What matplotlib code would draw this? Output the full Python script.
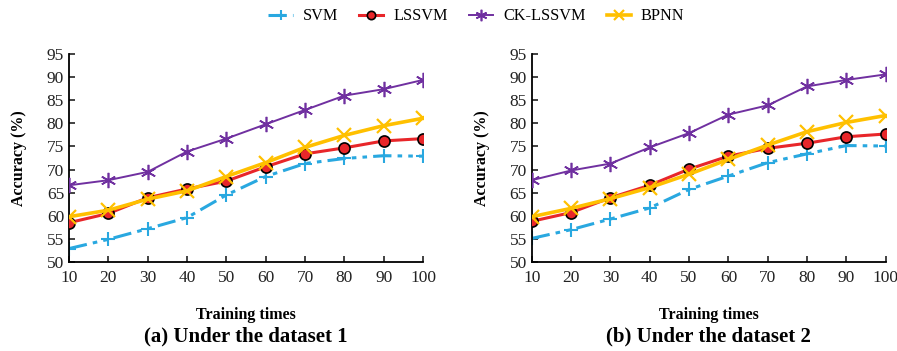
import matplotlib
matplotlib.use("Agg")
import matplotlib.pyplot as plt

plt.rcParams['font.family'] = ['Liberation Serif', 'DejaVu Serif']

training_times = [10, 20, 30, 40, 50, 60, 70, 80, 90, 100]
yticks = [50, 55, 60, 65, 70, 75, 80, 85, 90, 95]

# dataset 1
svm_1 = [52.9, 54.9, 57.2, 59.6, 64.5, 68.5, 71.3, 72.4, 73.0, 72.9]
lssvm_1 = [58.5, 60.5, 63.9, 65.8, 67.5, 70.6, 73.4, 74.7, 76.2, 76.7]
ck_lssvm_1 = [66.6, 67.7, 69.5, 73.9, 76.7, 79.8, 82.9, 86.0, 87.4, 89.4]
bpnn_1 = [59.8, 61.2, 63.6, 65.4, 68.5, 71.5, 74.8, 77.4, 79.5, 81.1]

# dataset 2
svm_2 = [55.1, 57.0, 59.3, 61.7, 65.7, 68.6, 71.5, 73.4, 75.2, 75.1]
lssvm_2 = [58.8, 60.7, 63.9, 66.6, 70.1, 72.9, 74.6, 75.7, 77.1, 77.7]
ck_lssvm_2 = [67.7, 69.8, 71.3, 74.8, 77.9, 81.9, 83.9, 88.0, 89.4, 90.6]
bpnn_2 = [59.8, 61.6, 63.7, 66.1, 69.0, 72.2, 75.3, 78.2, 80.2, 81.7]

titles = ["(a) Under the dataset 1", "(b) Under the dataset 2"]

BLUE = "#29a8e0"
RED = "#e8262a"
PURPLE = "#7030a0"
GOLD = "#ffc000"

fig = plt.figure(figsize=(8.97, 3.51), dpi=100)
ax1 = fig.add_axes([0.0769, 0.2536, 0.3947, 0.5924])
ax2 = fig.add_axes([0.5928, 0.2536, 0.3946, 0.5924])


def draw_panel(ax, svm, lssvm, ck, bpnn, title):
    ax.plot(training_times, svm, color=BLUE, linestyle=(0, (6, 2, 1.5, 2, 1.5, 2)),
            linewidth=2.2, marker="+", markersize=10, markeredgewidth=1.5,
            label="SVM", zorder=2)
    ax.plot(training_times, lssvm, color=RED, linewidth=2.2, marker="o",
            markersize=8, markerfacecolor=RED, markeredgecolor="black",
            markeredgewidth=1.2, label="LSSVM", zorder=3)
    ax.plot(training_times, ck, color=PURPLE, linewidth=1.4, marker=(6, 2, 0),
            markersize=11, markeredgewidth=1.2, label="CK-LSSVM", zorder=4)
    ax.plot(training_times, bpnn, color=GOLD, linewidth=2.6, marker="x",
            markersize=10, markeredgewidth=1.6, label="BPNN", zorder=4)

    ax.set_xlim(10, 100)
    ax.set_ylim(50, 95)
    ax.set_xticks(training_times)
    ax.set_yticks(yticks)
    ax.spines['top'].set_visible(False)
    ax.spines['right'].set_visible(False)
    ax.spines['left'].set_linewidth(1.3)
    ax.spines['bottom'].set_linewidth(1.3)
    ax.tick_params(direction='in', length=4, width=1.2, labelsize=12.5,
                   colors='#222222')
    ax.tick_params(axis='x', pad=6)
    ax.set_ylabel("Accuracy (%)", fontsize=11.5, fontweight='bold', labelpad=14)
    ax.set_xlabel("Training times", fontsize=11.5, fontweight='bold', labelpad=15)
    ax.set_title(title, fontsize=15, fontweight='bold', y=-0.42)


draw_panel(ax1, svm_1, lssvm_1, ck_lssvm_1, bpnn_1, titles[0])
draw_panel(ax2, svm_2, lssvm_2, ck_lssvm_2, bpnn_2, titles[1])

handles, labels = ax1.get_legend_handles_labels()
fig.legend(handles, labels, loc='center', bbox_to_anchor=(0.531, 0.953),
           ncol=4, frameon=False, fontsize=11.7, handlelength=1.5,
           handletextpad=0.6, columnspacing=1.3, markerscale=0.75)

fig.savefig("out.png", dpi=100)
